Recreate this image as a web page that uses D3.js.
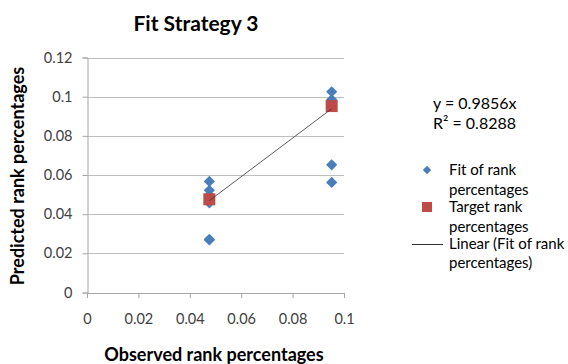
<!DOCTYPE html>
<html>
<head>
<meta charset="utf-8">
<script src="https://cdn.jsdelivr.net/npm/d3@7"></script>
<style>
  html, body { margin: 0; padding: 0; background: #fff; }
  svg text { font-family: Lato, "Open Sans", sans-serif; }
</style>
</head>
<body>
<svg id="chart" width="568" height="364"></svg>
<script>
// Observed vs predicted rank percentages
const fitX = [0.0476, 0.0476, 0.0476, 0.0476, 0.0476, 0.0476, 0.0952, 0.0952, 0.0952, 0.0952];
const fitY = [0.0567, 0.0522, 0.0495, 0.0458, 0.0272, 0.0268, 0.1025, 0.0985, 0.0652, 0.0562];
const targetX = [0.0476, 0.0952];
const targetY = [0.0476, 0.0952];
const slope = 0.9856;
const rSquared = 0.8288;
const xTicks = [0, 0.02, 0.04, 0.06, 0.08, 0.1];
const yTicks = [0, 0.02, 0.04, 0.06, 0.08, 0.1, 0.12];

const svg = d3.select("#chart");
const x = d3.scaleLinear().domain([0, 0.1]).range([87, 344]);
const y = d3.scaleLinear().domain([0, 0.12]).range([292.5, 57.5]);

const gridColor = "#bfbfbf";
const axisColor = "#a6a6a6";
const textColor = "#404040";
const fmt = d => String(+d.toFixed(2));

// horizontal gridlines
svg.append("g").selectAll("line").data(yTicks.filter(d => d > 0)).join("line")
  .attr("x1", x(0)).attr("x2", x(0.1))
  .attr("y1", d => Math.round(y(d)) + 0.5).attr("y2", d => Math.round(y(d)) + 0.5)
  .attr("stroke", gridColor).attr("stroke-width", 1);

// y axis
const yAxis = svg.append("g").attr("transform", `translate(${x(0)+0.5},0)`)
  .call(d3.axisLeft(y).tickValues(yTicks).tickSize(5).tickPadding(10).tickFormat(fmt));
yAxis.select(".domain").attr("stroke", axisColor);
yAxis.selectAll(".tick line").attr("stroke", axisColor);
yAxis.selectAll(".tick text").attr("fill", textColor).style("font-size", "14.5px");

// x axis
const xAxis = svg.append("g").attr("transform", `translate(0,${y(0)+0.5})`)
  .call(d3.axisBottom(x).tickValues(xTicks).tickSize(5).tickPadding(16).tickFormat(fmt));
xAxis.select(".domain").attr("stroke", axisColor);
xAxis.selectAll(".tick line").attr("stroke", axisColor);
xAxis.selectAll(".tick text").attr("fill", textColor).style("font-size", "14.5px");

// fit points (diamonds)
const diamond = d3.symbol().type(d3.symbolDiamond2).size(80);
svg.append("g").selectAll("path").data(fitX.map((v, i) => [v, fitY[i]])).join("path")
  .attr("d", diamond)
  .attr("transform", d => `translate(${x(d[0])},${y(d[1])})`)
  .attr("fill", "#4a7ebb");

// target points (squares)
const sq = 12;
svg.append("g").selectAll("rect").data(targetX.map((v, i) => [v, targetY[i]])).join("rect")
  .attr("x", d => x(d[0]) - sq / 2).attr("y", d => y(d[1]) - sq / 2)
  .attr("width", sq).attr("height", sq)
  .attr("fill", "#be4b48");

// linear trendline through the origin, across the observed range
const xr = d3.extent(fitX);
svg.append("line")
  .attr("x1", x(xr[0])).attr("y1", y(slope * xr[0]))
  .attr("x2", x(xr[1])).attr("y2", y(slope * xr[1]))
  .attr("stroke", "#333").attr("stroke-width", 0.8);

// title
svg.append("text").attr("x", 196).attr("y", 31).attr("text-anchor", "middle")
  .style("font-size", "21px").style("font-weight", "bold").attr("fill", "#000")
  .text("Fit Strategy 3");

// axis titles
svg.append("text").attr("x", 214).attr("y", 361).attr("text-anchor", "middle")
  .style("font-size", "18px").style("font-weight", "bold").attr("fill", "#000")
  .text("Observed rank percentages");
svg.append("text").attr("transform", "translate(24,176) rotate(-90)").attr("text-anchor", "middle")
  .style("font-size", "18px").style("font-weight", "bold").attr("fill", "#000")
  .text("Predicted rank percentages");

// trendline equation
const eq = svg.append("g").style("font-size", "16px").attr("fill", "#000");
eq.append("text").attr("x", 433).attr("y", 109).text(`y = ${slope}x`);
eq.append("text").attr("x", 433).attr("y", 129).text(`R² = ${rSquared}`);

// legend
const lg = svg.append("g").style("font-size", "15px").attr("fill", "#000");
lg.append("path").attr("d", d3.symbol().type(d3.symbolDiamond2).size(45))
  .attr("transform", "translate(427,170)").attr("fill", "#4a7ebb");
lg.append("text").attr("x", 449).attr("y", 175).text("Fit of rank");
lg.append("text").attr("x", 449).attr("y", 195).text("percentages");
lg.append("rect").attr("x", 422).attr("y", 202).attr("width", 10).attr("height", 10).attr("fill", "#be4b48");
lg.append("text").attr("x", 449).attr("y", 212).text("Target rank");
lg.append("text").attr("x", 449).attr("y", 232).text("percentages");
lg.append("line").attr("x1", 412).attr("x2", 443).attr("y1", 244.5).attr("y2", 244.5)
  .attr("stroke", "#333").attr("stroke-width", 1);
lg.append("text").attr("x", 449).attr("y", 249).text("Linear (Fit of rank");
lg.append("text").attr("x", 449).attr("y", 268).text("percentages)");
</script>
</body>
</html>
